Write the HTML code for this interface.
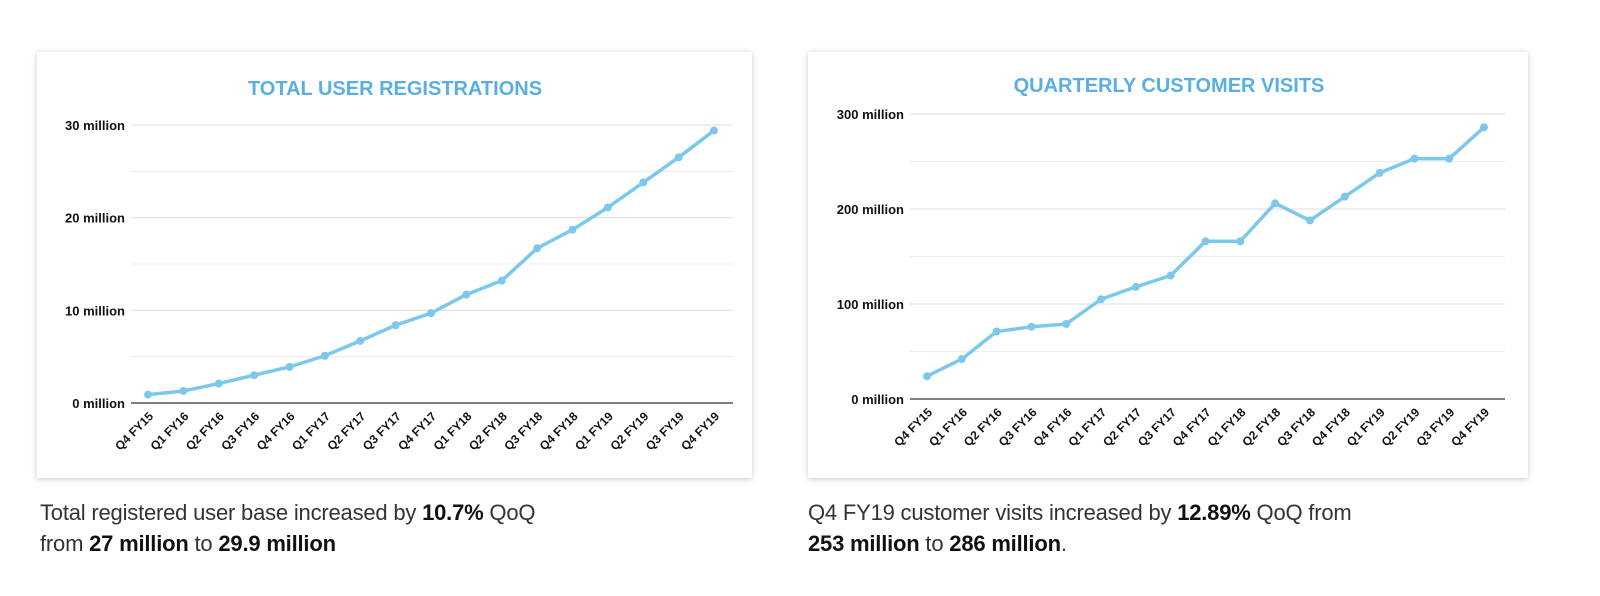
<!DOCTYPE html>
<html><head><meta charset="utf-8"><style>
body{margin:0;width:1600px;height:596px;background:#fff;font-family:"Liberation Sans",sans-serif;position:relative;overflow:hidden}
.card{position:absolute;background:#fff;box-shadow:0 1px 6px rgba(0,0,0,.22)}
.cap{position:absolute;font-size:22px;color:#333;line-height:31px;font-family:"Liberation Sans",sans-serif;letter-spacing:-0.2px}
.cap b{color:#111}
</style></head><body>
<div class="card" style="left:37px;top:52px;width:715px;height:426px"></div>
<div class="card" style="left:808px;top:52px;width:720px;height:426px"></div>
<svg id="svg" width="1600" height="596" style="position:absolute;left:0;top:0"></svg>
<div class="cap" style="left:40px;top:497px">Total registered user base increased by <b>10.7%</b> QoQ<br>from <b>27 million</b> to <b>29.9 million</b></div>
<div class="cap" style="left:808px;top:497px">Q4 FY19 customer visits increased by <b>12.89%</b> QoQ from<br><b>253 million</b> to <b>286 million</b>.</div>
<script>
const categories=["Q4 FY15","Q1 FY16","Q2 FY16","Q3 FY16","Q4 FY16","Q1 FY17","Q2 FY17","Q3 FY17","Q4 FY17","Q1 FY18","Q2 FY18","Q3 FY18","Q4 FY18","Q1 FY19","Q2 FY19","Q3 FY19","Q4 FY19"];
const registrations=[0.9,1.3,2.1,3.0,3.9,5.1,6.7,8.4,9.7,11.7,13.2,16.7,18.7,21.1,23.8,26.5,29.4];
const visits=[24,42,71,76,79,105,118,130,166,166,206,188,213,238,253,253,286];
const regTicks=[0,10,20,30];
const visitTicks=[0,100,200,300];
const NS="http://www.w3.org/2000/svg";
const svg=document.getElementById('svg');
function mk(t,a){const e=document.createElementNS(NS,t);for(const k in a)e.setAttribute(k,a[k]);svg.appendChild(e);return e;}
function chart(o){
  const y=v=>o.y0-(v/o.max)*(o.y0-o.yTop);
  const x=i=>o.x0+i*(o.x1-o.x0)/(categories.length-1);
  let t=mk('text',{x:o.titleX,y:o.titleY,'text-anchor':'middle','font-size':20,'font-weight':'bold',fill:'#5aaee3'});
  t.textContent=o.title;
  
  
  const step=o.ticks[1]-o.ticks[0];
  for(let v=0;v<=o.max;v+=step/2){
    const col=v===0?'#333':(v%step===0?'#ddd':'#ececec');
    let g=mk('line',{x1:o.gx0,x2:o.gx1,y1:y(v),y2:y(v),stroke:col,'stroke-width':v===0?1.2:1});
    
    
  }
  o.ticks.forEach(v=>{
    let l=mk('text',{x:o.gx0-6,y:y(v)+5,'text-anchor':'end','font-size':13,'font-weight':'bold',fill:'#111'});
    l.textContent=v+' million';
    
    
  });
  categories.forEach((c,i)=>{
    let l=mk('text',{x:x(i)+6,y:o.y0+14,'text-anchor':'end','font-size':12,'font-weight':'bold',fill:'#111',transform:`rotate(-45 ${x(i)+6} ${o.y0+14})`});
    l.textContent=c;
    
    
  });
  let p=mk('polyline',{points:o.data.map((v,i)=>x(i)+','+y(v)).join(' '),fill:'none',stroke:'#7cc8ec','stroke-width':3.5,'stroke-linejoin':'round'});
  
  
  o.data.forEach((v,i)=>{
    let c=mk('circle',{cx:x(i),cy:y(v),r:4,fill:'#7cc8ec'});
    
    
  });
}
chart({id:'registrations',title:'TOTAL USER REGISTRATIONS',titleX:395,titleY:95,data:registrations,ticks:regTicks,max:30,y0:403,yTop:125,x0:148,x1:714,gx0:131,gx1:733});
chart({id:'visits',title:'QUARTERLY CUSTOMER VISITS',titleX:1169,titleY:92,data:visits,ticks:visitTicks,max:300,y0:399,yTop:114,x0:927,x1:1484,gx0:910,gx1:1505});
</script>
</body></html>
